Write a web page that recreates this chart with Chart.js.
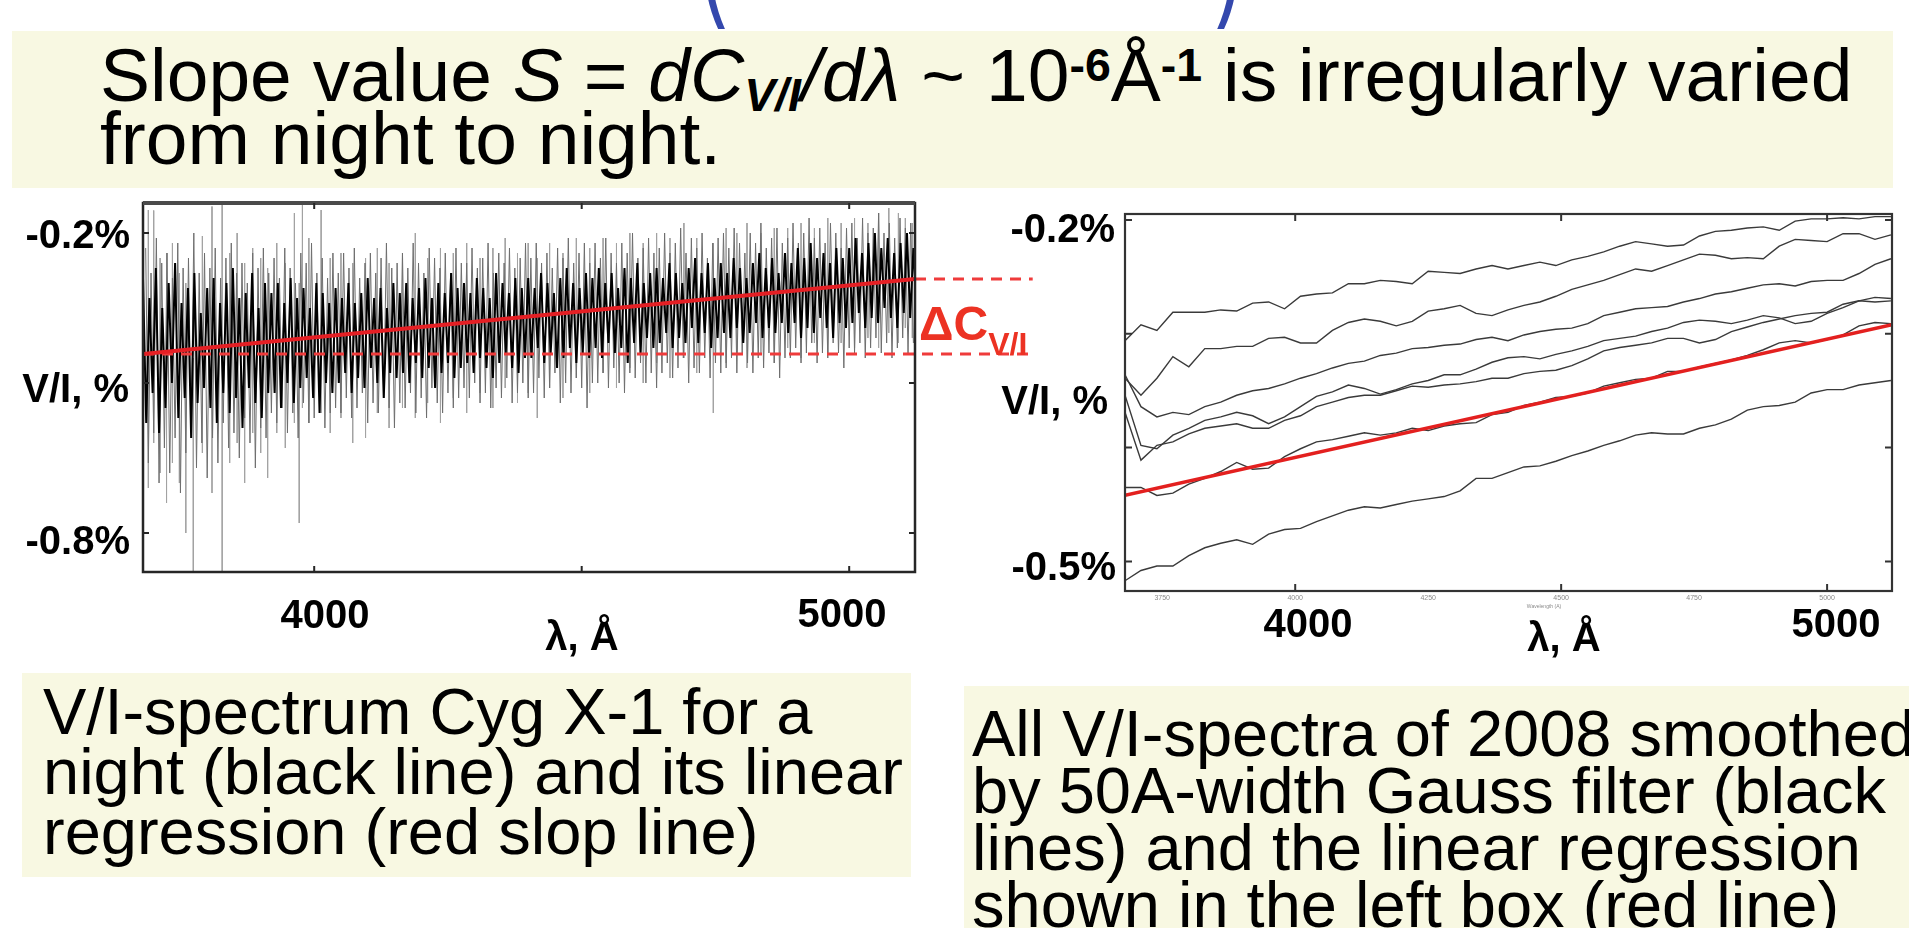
<!DOCTYPE html>
<html lang="en">
<head>
<meta charset="UTF-8">
<title>Slope of V/I spectra Cyg X-1</title>
<script src="https://cdn.jsdelivr.net/npm/chart.js"></script>
<style>
    body {
        margin: 0;
        width: 1909px;
        height: 928px;
        overflow: hidden;
        background: #fff;
        position: relative;
        font-family: 'Liberation Sans', Arial, sans-serif;
        color: #000;
    }
    .box { position: absolute; background: #f8f8e2; }
    .txt { position: absolute; white-space: nowrap; }
    .lbl { position: absolute; white-space: nowrap; font-weight: bold; font-size: 40px; line-height: 40px; }
    .c { transform: translate(-50%, -50%); }
    .r { transform: translate(-100%, -50%); }
    .paren { position: absolute; top: -139px; font-size: 160px; line-height: 160px; color: #3448ad;
             transform: translateX(-50%) scaleX(0.5); }
    sub, sup { font-size: 0.62em; font-weight: bold; position: relative; vertical-align: baseline; line-height: 0; }
    sub { top: 0.22em; }
    sup { top: -0.42em; }
    canvas { position: absolute; }
    .tiny { position: absolute; font-size: 7px; line-height: 7px; color: #8a8a8a; transform: translate(-50%, 0); }
</style>
</head>
<body>
    <div class="paren" style="left:712px">(</div>
    <div class="paren" style="left:1230px">)</div>

    <div class="box" style="left:12px; top:31px; width:1881px; height:157px"></div>
    <div class="txt" style="left:100px; top:44px; font-size:75px; line-height:63px">Slope value <i>S</i> = <i>dC</i><sub><i>V/I</i></sub><i>/dλ</i> ~ 10<sup>-6</sup>Å<sup>-1</sup> is irregularly varied<br>from night to night.</div>

    <div class="box" style="left:22px; top:673px; width:889px; height:204px"></div>
    <div class="txt" style="left:43px; top:682px; font-size:65px; line-height:60px">V/I-spectrum Cyg X-1 for a<br>night (black line) and its linear<br>regression (red slop line)</div>

    <div class="box" style="left:964px; top:686px; width:945px; height:242px"></div>
    <div class="txt" style="left:972px; top:705px; font-size:65px; line-height:57px">All V/I-spectra of 2008 smoothed<br>by 50A-width Gauss filter (black<br>lines) and the linear regression<br>shown in the left box (red line)</div>

    <canvas id="nightChart" width="1060" height="520" style="left:0; top:150px"></canvas>
    <canvas id="allChart" width="949" height="520" style="left:960px; top:150px"></canvas>

    <div class="lbl r" style="left:130px; top:234px">-0.2%</div>
    <div class="lbl r" style="left:129px; top:388px">V/I, %</div>
    <div class="lbl r" style="left:130px; top:540px">-0.8%</div>
    <div class="lbl c" style="left:325px; top:614px">4000</div>
    <div class="lbl c" style="left:842px; top:613px">5000</div>
    <div class="lbl c" style="left:582px; top:636px">λ, Å</div>

    <div class="txt" style="left:919px; top:300px; font-weight:bold; font-size:48px; line-height:48px; color:#ec3223">ΔC<span style="font-size:32px; position:relative; top:15px">V/I</span></div>

    <div class="lbl r" style="left:1115px; top:228px">-0.2%</div>
    <div class="lbl r" style="left:1108px; top:400px">V/I, %</div>
    <div class="lbl r" style="left:1116px; top:566px">-0.5%</div>
    <div class="lbl c" style="left:1308px; top:623px">4000</div>
    <div class="lbl c" style="left:1836px; top:623px">5000</div>
    <div class="lbl c" style="left:1564px; top:637px">λ, Å</div>
    <div class="tiny" style="left:1544px; top:603px; font-size:5px">Wavelength (A)</div>

<script>
    // wavelength range of both panels, Å
    const lambdaMin = 3680;
    const lambdaMax = 5123;

    // left panel: one night V/I spectrum, dense core excursions every 12 Å
    const coreStart = 3680;
    const coreStep = 12;
    const coreHigh = [
        -0.29, -0.33, -0.27, -0.35, -0.30, -0.26, -0.34, -0.31, -0.28, -0.36,
        -0.31, -0.29, -0.34, -0.30, -0.27, -0.33, -0.32, -0.28, -0.35, -0.30,
        -0.32, -0.30, -0.34, -0.29, -0.33, -0.31, -0.35, -0.30, -0.32, -0.34,
        -0.31, -0.33, -0.30, -0.34, -0.32, -0.29, -0.33, -0.31, -0.35, -0.30,
        -0.32, -0.30, -0.33, -0.31, -0.29, -0.33, -0.30, -0.32, -0.28, -0.31,
        -0.30, -0.32, -0.29, -0.31, -0.33, -0.28, -0.30, -0.32, -0.29, -0.31,
        -0.29, -0.31, -0.28, -0.30, -0.32, -0.29, -0.27, -0.30, -0.31, -0.28,
        -0.29, -0.27, -0.30, -0.28, -0.31, -0.27, -0.29, -0.26, -0.30, -0.28,
        -0.27, -0.29, -0.26, -0.28, -0.30, -0.27, -0.25, -0.28, -0.26, -0.29,
        -0.26, -0.28, -0.25, -0.27, -0.29, -0.26, -0.24, -0.27, -0.25, -0.28,
        -0.24, -0.26, -0.23, -0.25, -0.22, -0.25, -0.24, -0.26, -0.23, -0.25,
        -0.23, -0.21, -0.24, -0.22, -0.20, -0.23, -0.21, -0.24, -0.22, -0.20, -0.23, -0.21
    ];
    const coreLow = [
        -0.58, -0.52, -0.60, -0.55, -0.50, -0.57, -0.53, -0.61, -0.54, -0.51,
        -0.55, -0.58, -0.52, -0.56, -0.53, -0.59, -0.51, -0.54, -0.57, -0.52,
        -0.52, -0.55, -0.50, -0.54, -0.51, -0.49, -0.53, -0.56, -0.50, -0.52,
        -0.50, -0.48, -0.52, -0.49, -0.51, -0.47, -0.50, -0.53, -0.48, -0.49,
        -0.48, -0.50, -0.46, -0.49, -0.47, -0.51, -0.48, -0.46, -0.49, -0.47,
        -0.46, -0.48, -0.45, -0.47, -0.49, -0.46, -0.44, -0.47, -0.48, -0.45,
        -0.45, -0.43, -0.46, -0.44, -0.47, -0.45, -0.43, -0.46, -0.44, -0.45,
        -0.43, -0.45, -0.42, -0.44, -0.43, -0.46, -0.42, -0.44, -0.41, -0.43,
        -0.42, -0.40, -0.43, -0.41, -0.42, -0.39, -0.42, -0.40, -0.43, -0.41,
        -0.40, -0.41, -0.39, -0.42, -0.40, -0.38, -0.41, -0.39, -0.40, -0.38,
        -0.40, -0.38, -0.41, -0.39, -0.40, -0.37, -0.39, -0.41, -0.38, -0.39,
        -0.38, -0.36, -0.39, -0.37, -0.38, -0.35, -0.37, -0.39, -0.36, -0.37, -0.35, -0.38
    ];

    // fainter outer excursions every 10 Å from 3685
    const fringeStart = 3685;
    const fringeStep = 10;
    const fringeHigh = [
        -0.23, -0.28, -0.21, -0.26, -0.24, -0.29, -0.22, -0.27, -0.25, -0.20, -0.28, -0.24,
        -0.27, -0.23, -0.29, -0.25, -0.22, -0.28, -0.26, -0.30, -0.24, -0.27, -0.23, -0.28,
        -0.25, -0.29, -0.23, -0.27, -0.30, -0.24, -0.26, -0.22, -0.28, -0.25, -0.29, -0.24,
        -0.28, -0.24, -0.27, -0.23, -0.29, -0.26, -0.24, -0.28, -0.25, -0.22, -0.27, -0.26,
        -0.24, -0.27, -0.22, -0.26, -0.28, -0.23, -0.25, -0.27, -0.24, -0.28, -0.23, -0.26,
        -0.26, -0.23, -0.27, -0.25, -0.22, -0.28, -0.24, -0.26, -0.23, -0.27, -0.25, -0.22,
        -0.25, -0.22, -0.26, -0.24, -0.27, -0.23, -0.25, -0.21, -0.26, -0.24, -0.22, -0.26,
        -0.22, -0.25, -0.21, -0.24, -0.26, -0.22, -0.24, -0.20, -0.25, -0.23, -0.21, -0.24,
        -0.23, -0.20, -0.24, -0.22, -0.19, -0.24, -0.21, -0.23, -0.20, -0.25, -0.22, -0.21,
        -0.20, -0.23, -0.19, -0.22, -0.24, -0.20, -0.22, -0.18, -0.23, -0.21, -0.19, -0.22,
        -0.21, -0.18, -0.22, -0.20, -0.17, -0.21, -0.19, -0.22, -0.18, -0.20, -0.23, -0.19,
        -0.18, -0.21, -0.17, -0.20, -0.19, -0.16, -0.20, -0.18, -0.21, -0.17, -0.19, -0.18
    ];
    const fringeLow = [
        -0.66, -0.60, -0.70, -0.63, -0.68, -0.61, -0.72, -0.64, -0.59, -0.67, -0.62, -0.69,
        -0.61, -0.66, -0.58, -0.63, -0.60, -0.65, -0.57, -0.62, -0.67, -0.59, -0.61, -0.56,
        -0.58, -0.55, -0.60, -0.56, -0.61, -0.54, -0.58, -0.57, -0.53, -0.59, -0.56, -0.55,
        -0.56, -0.53, -0.57, -0.55, -0.52, -0.58, -0.54, -0.56, -0.53, -0.55, -0.59, -0.54,
        -0.55, -0.52, -0.56, -0.53, -0.57, -0.51, -0.54, -0.56, -0.52, -0.55, -0.53, -0.51,
        -0.53, -0.50, -0.54, -0.52, -0.55, -0.51, -0.53, -0.49, -0.54, -0.52, -0.50, -0.53,
        -0.52, -0.49, -0.53, -0.51, -0.48, -0.54, -0.50, -0.52, -0.49, -0.51, -0.55, -0.50,
        -0.50, -0.48, -0.51, -0.47, -0.50, -0.52, -0.48, -0.49, -0.46, -0.50, -0.48, -0.51,
        -0.48, -0.46, -0.49, -0.47, -0.45, -0.50, -0.47, -0.48, -0.45, -0.49, -0.46, -0.48,
        -0.47, -0.45, -0.48, -0.44, -0.46, -0.48, -0.45, -0.47, -0.44, -0.46, -0.49, -0.45,
        -0.45, -0.43, -0.46, -0.44, -0.42, -0.46, -0.44, -0.45, -0.42, -0.44, -0.47, -0.43,
        -0.44, -0.42, -0.45, -0.43, -0.41, -0.44, -0.42, -0.45, -0.43, -0.41, -0.44, -0.42
    ];

    // isolated strong spikes (grey), Å and V/I %
    const spikeLambda = [3690, 3700, 3712, 3724, 3735, 3748, 3760, 3774, 3791, 3809, 3828, 3842, 3856, 3870, 3885, 3900,
        3913, 3930, 3946, 3963, 3972, 3978, 3990, 4013, 4030, 4050, 4072, 4096, 4118, 4140, 4165, 4189,
        4212, 4236, 4260, 4285, 4310, 4334, 4357, 4380, 4400, 4417, 4440, 4465, 4490, 4515, 4540, 4565,
        4590, 4615, 4640, 4665, 4691, 4715, 4746, 4770, 4790, 4809, 4835, 4860, 4885, 4910, 4935, 4960,
        4985, 5010, 5035, 5055, 5074, 5092, 5105, 5118];
    const spikeLow = [-0.71, -0.62, -0.68, -0.74, -0.66, -0.70, -0.80, -0.876, -0.64, -0.72, -0.876, -0.66, -0.62, -0.70, -0.60, -0.64,
        -0.69, -0.60, -0.63, -0.58, -0.78, -0.55, -0.58, -0.56, -0.60, -0.57, -0.62, -0.61, -0.56, -0.59, -0.55, -0.57,
        -0.54, -0.58, -0.53, -0.56, -0.52, -0.55, -0.51, -0.54, -0.52, -0.57, -0.51, -0.53, -0.49, -0.52, -0.48, -0.51,
        -0.47, -0.50, -0.46, -0.49, -0.45, -0.48, -0.56, -0.46, -0.44, -0.47, -0.44, -0.46, -0.43, -0.45, -0.42, -0.44,
        -0.42, -0.43, -0.41, -0.43, -0.40, -0.42, -0.39, -0.41];
    const spikeHigh = [-0.154, -0.155, -0.25, -0.24, -0.22, -0.28, -0.30, -0.45, -0.206, -0.147, -0.14, -0.24, -0.20, -0.26, -0.23, -0.25,
        -0.27, -0.22, -0.26, -0.16, -0.30, -0.14, -0.21, -0.154, -0.25, -0.24, -0.26, -0.25, -0.23, -0.26, -0.24, -0.20,
        -0.25, -0.23, -0.24, -0.22, -0.25, -0.23, -0.21, -0.24, -0.22, -0.25, -0.22, -0.24, -0.21, -0.23, -0.21, -0.22,
        -0.20, -0.22, -0.20, -0.21, -0.18, -0.21, -0.22, -0.19, -0.20, -0.18, -0.20, -0.19, -0.19, -0.18, -0.19, -0.17,
        -0.18, -0.17, -0.18, -0.16, -0.15, -0.16, -0.17, -0.18];

    // linear regression and the ΔC marker lines
    const fitLambda = [3680, 5123];
    const fitValue = [-0.442, -0.292];
    const markerEndLambda = 5343;

    // right panel: all 2008 nights, smoothed, every 30 Å from 3680
    const smoothStart = 3680;
    const smoothStep = 30;
    const nightA = [-0.306, -0.292, -0.297, -0.281, -0.281, -0.281, -0.279, -0.280, -0.273, -0.272,
        -0.278, -0.267, -0.265, -0.264, -0.256, -0.256, -0.253, -0.254, -0.256, -0.245,
        -0.246, -0.247, -0.243, -0.240, -0.243, -0.240, -0.237, -0.240, -0.235, -0.232,
        -0.228, -0.223, -0.219, -0.221, -0.223, -0.222, -0.214, -0.210, -0.209, -0.207,
        -0.206, -0.209, -0.201, -0.199, -0.199, -0.198, -0.199, -0.197, -0.197];
    const nightB = [-0.339, -0.354, -0.339, -0.320, -0.329, -0.313, -0.313, -0.311, -0.311, -0.304,
        -0.303, -0.308, -0.308, -0.297, -0.290, -0.287, -0.289, -0.293, -0.289, -0.280,
        -0.278, -0.275, -0.282, -0.284, -0.279, -0.275, -0.272, -0.267, -0.261, -0.257,
        -0.253, -0.248, -0.243, -0.245, -0.240, -0.235, -0.230, -0.231, -0.234, -0.233,
        -0.234, -0.223, -0.217, -0.218, -0.219, -0.212, -0.212, -0.217, -0.213];
    const nightC = [-0.336, -0.364, -0.373, -0.369, -0.371, -0.364, -0.360, -0.354, -0.350, -0.348,
        -0.344, -0.339, -0.335, -0.330, -0.326, -0.324, -0.319, -0.317, -0.313, -0.312,
        -0.310, -0.309, -0.305, -0.303, -0.306, -0.301, -0.298, -0.296, -0.295, -0.291,
        -0.284, -0.281, -0.278, -0.277, -0.276, -0.272, -0.269, -0.265, -0.263, -0.260,
        -0.257, -0.256, -0.258, -0.254, -0.253, -0.253, -0.247, -0.239, -0.234];
    const nightD = [-0.354, -0.398, -0.401, -0.389, -0.383, -0.376, -0.373, -0.369, -0.372, -0.379,
        -0.373, -0.364, -0.355, -0.351, -0.345, -0.348, -0.353, -0.349, -0.344, -0.341,
        -0.336, -0.336, -0.331, -0.325, -0.321, -0.320, -0.322, -0.318, -0.315, -0.311,
        -0.306, -0.304, -0.302, -0.298, -0.295, -0.290, -0.288, -0.289, -0.291, -0.288,
        -0.284, -0.286, -0.291, -0.289, -0.282, -0.277, -0.271, -0.268, -0.269];
    const nightE = [-0.369, -0.411, -0.398, -0.395, -0.388, -0.383, -0.381, -0.379, -0.383, -0.383,
        -0.376, -0.372, -0.364, -0.360, -0.356, -0.354, -0.354, -0.350, -0.346, -0.347,
        -0.345, -0.344, -0.342, -0.339, -0.339, -0.335, -0.333, -0.332, -0.328, -0.322,
        -0.315, -0.312, -0.310, -0.308, -0.304, -0.304, -0.308, -0.305, -0.298, -0.294,
        -0.290, -0.287, -0.284, -0.282, -0.281, -0.274, -0.271, -0.272, -0.271];
    const nightF = [-0.435, -0.435, -0.442, -0.440, -0.432, -0.427, -0.421, -0.413, -0.419, -0.418,
        -0.408, -0.401, -0.395, -0.393, -0.390, -0.387, -0.389, -0.387, -0.383, -0.385,
        -0.381, -0.379, -0.378, -0.371, -0.369, -0.363, -0.360, -0.356, -0.355, -0.352,
        -0.346, -0.343, -0.340, -0.339, -0.333, -0.333, -0.329, -0.326, -0.323, -0.319,
        -0.314, -0.308, -0.306, -0.308, -0.305, -0.301, -0.293, -0.290, -0.291];
    const nightG = [-0.517, -0.508, -0.504, -0.504, -0.495, -0.488, -0.484, -0.481, -0.485, -0.476,
        -0.472, -0.471, -0.465, -0.460, -0.455, -0.452, -0.453, -0.450, -0.447, -0.445,
        -0.443, -0.438, -0.427, -0.427, -0.422, -0.417, -0.416, -0.412, -0.407, -0.403,
        -0.398, -0.394, -0.389, -0.387, -0.388, -0.388, -0.383, -0.380, -0.375, -0.367,
        -0.364, -0.363, -0.360, -0.352, -0.349, -0.349, -0.345, -0.343, -0.341];
    const smallTicks = [3750, 4000, 4250, 4500, 4750, 5000];

    // frame with inward ticks, drawn through the chart scales
    const framePlugin = {
        id: 'frame',
        afterDatasetsDraw(chart, args, opts) {
            const ctx = chart.ctx;
            const a = chart.chartArea;
            const x = chart.scales.x, y = chart.scales.y;
            ctx.save();
            ctx.strokeStyle = opts.color;
            ctx.lineWidth = opts.width;
            ctx.strokeRect(a.left, a.top, a.right - a.left, a.bottom - a.top);
            if (opts.topWidth) {
                ctx.strokeStyle = opts.topColor;
                ctx.lineWidth = opts.topWidth;
                ctx.beginPath();
                ctx.moveTo(a.left, a.top); ctx.lineTo(a.right, a.top);
                ctx.stroke();
                ctx.strokeStyle = opts.color;
            }
            ctx.lineWidth = 2;
            ctx.beginPath();
            opts.xTicks.forEach(v => {
                const px = x.getPixelForValue(v);
                ctx.moveTo(px, a.bottom); ctx.lineTo(px, a.bottom - opts.len);
                ctx.moveTo(px, a.top); ctx.lineTo(px, a.top + opts.len);
            });
            opts.yTicks.forEach(v => {
                const py = y.getPixelForValue(v);
                ctx.moveTo(a.left, py); ctx.lineTo(a.left + opts.len, py);
                ctx.moveTo(a.right, py); ctx.lineTo(a.right - opts.len, py);
            });
            ctx.stroke();
            ctx.restore();
        }
    };

    // left chart datasets
    function zigzag(start, step, hi, lo) {
        const pts = [];
        hi.forEach((v, i) => {
            pts.push({ x: start + i * step, y: v });
            pts.push({ x: start + i * step + step / 2, y: lo[i] });
        });
        return pts;
    }
    const spikePoints = [];
    spikeLambda.forEach((l, i) => {
        spikePoints.push({ x: l, y: spikeHigh[i] });
        spikePoints.push({ x: l, y: spikeLow[i] });
        spikePoints.push({ x: l, y: null });
    });

    new Chart(document.getElementById('nightChart'), {
        type: 'line',
        data: {
            datasets: [
                { data: fitLambda.map((l, i) => ({ x: l, y: fitValue[i] })), borderColor: '#e51f24', borderWidth: 4, order: 0 },
                { data: [{ x: fitLambda[0], y: fitValue[0] }, { x: markerEndLambda, y: fitValue[0] }],
                  borderColor: '#ef3b3b', borderWidth: 3, borderDash: [11, 8], clip: false, order: 1 },
                { data: [{ x: fitLambda[1], y: fitValue[1] }, { x: markerEndLambda, y: fitValue[1] }],
                  borderColor: '#ef3b3b', borderWidth: 3, borderDash: [11, 8], clip: false, order: 1 },
                { data: zigzag(coreStart, coreStep, coreHigh, coreLow), borderColor: '#000', borderWidth: 2, order: 2 },
                { data: zigzag(fringeStart, fringeStep, fringeHigh, fringeLow), borderColor: '#6e6e6e', borderWidth: 1, order: 3 },
                { data: spikePoints, borderColor: '#a3a3a3', borderWidth: 1, spanGaps: false, order: 4 }
            ]
        },
        options: {
            responsive: false,
            animation: false,
            layout: { padding: { left: 143, top: 53, right: 145, bottom: 98 } },
            elements: { point: { radius: 0 }, line: { tension: 0 } },
            plugins: {
                legend: { display: false },
                tooltip: { enabled: false },
                frame: { color: '#262626', width: 2.5, len: 6, topColor: '#4a4a4a', topWidth: 4,
                         xTicks: [4000, 4500, 5000], yTicks: [-0.2, -0.5, -0.8] }
            },
            scales: {
                x: { type: 'linear', display: false, min: lambdaMin, max: lambdaMax },
                y: { display: false, min: -0.878, max: -0.14 }
            }
        },
        plugins: [framePlugin]
    });

    // right chart datasets
    const grey = '#3a3a3a';
    const nights = [nightA, nightB, nightC, nightD, nightE, nightF, nightG];
    const nightSets = nights.map(arr => ({
        data: arr.map((v, i) => ({ x: smoothStart + i * smoothStep, y: v })),
        borderColor: grey, borderWidth: 1.4, order: 2
    }));

    const allChart = new Chart(document.getElementById('allChart'), {
        type: 'line',
        data: {
            datasets: [
                { data: [{ x: smoothStart, y: fitValue[0] }, { x: 5122, y: fitValue[1] }], borderColor: '#e3201f', borderWidth: 3.5, order: 0 }
            ].concat(nightSets)
        },
        options: {
            responsive: false,
            animation: false,
            layout: { padding: { left: 165, top: 64, right: 17, bottom: 79 } },
            elements: { point: { radius: 0 }, line: { tension: 0 } },
            plugins: {
                legend: { display: false },
                tooltip: { enabled: false },
                frame: { color: '#333', width: 2.2, len: 7, xTicks: [4000, 4500, 5000], yTicks: [-0.2, -0.3, -0.4, -0.5] }
            },
            scales: {
                x: { type: 'linear', display: false, min: lambdaMin, max: 5122 },
                y: { display: false, min: -0.526, max: -0.1947 }
            }
        },
        plugins: [framePlugin]
    });

    // tiny tick labels of the right panel, placed from its x scale
    const canvasLeft = 960, canvasTop = 150;
    smallTicks.forEach(v => {
        const d = document.createElement('div');
        d.className = 'tiny';
        d.textContent = v;
        d.style.left = (canvasLeft + allChart.scales.x.getPixelForValue(v)) + 'px';
        d.style.top = (canvasTop + allChart.chartArea.bottom + 3) + 'px';
        document.body.appendChild(d);
    });
</script>
</body>
</html>
